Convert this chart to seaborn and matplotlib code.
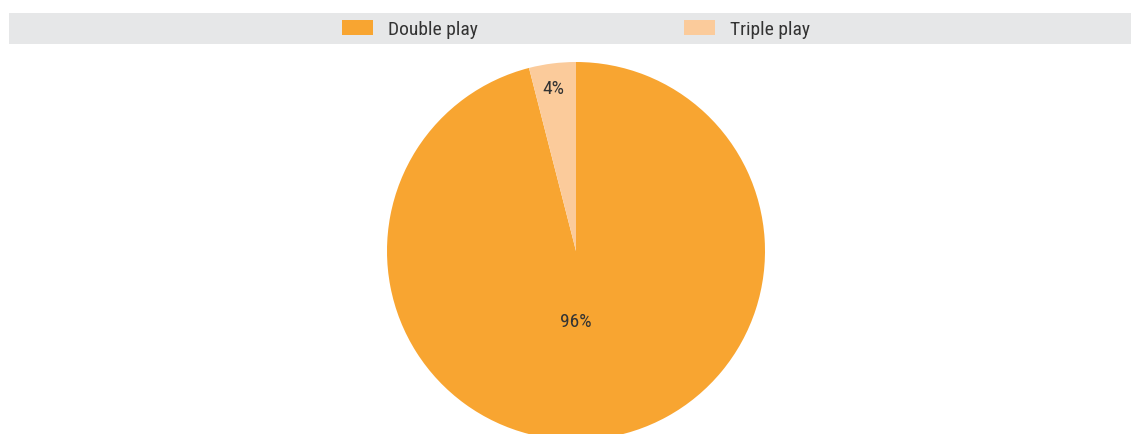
import matplotlib
matplotlib.use("Agg")
import matplotlib.pyplot as plt
import seaborn as sns
from matplotlib.patches import Rectangle
from matplotlib import font_manager

categories = ["Double play", "Triple play"]
values = [96, 4]
colors = ["#F8A531", "#FBCB9B"]

sns.set_theme(style="white")
avail = {f.name for f in font_manager.fontManager.ttflist}
fam = [f for f in ["Liberation Sans Narrow", "Roboto Condensed", "Liberation Sans", "DejaVu Sans"] if f in avail]
plt.rcParams['font.family'] = fam

W, H = 1131, 435
fig = plt.figure(figsize=(W / 100, H / 100), dpi=100)

# legend background bar
fig.patches.append(Rectangle((9 / W, 1 - 45 / H), (W - 9) / W, 31 / H,
                             transform=fig.transFigure, facecolor="#E6E7E8",
                             edgecolor="none", zorder=0))

cx, cy, r = 576, 252, 189
ax = fig.add_axes([(cx - r) / W, (H - cy - r) / H, 2 * r / W, 2 * r / H])
wedges, texts, autotexts = ax.pie(values, colors=colors, startangle=90, counterclock=False,
                                  autopct=lambda p: f"{p:.0f}%", pctdistance=0.87,
                                  wedgeprops=dict(linewidth=0),
                                  textprops=dict(color="#333333", fontsize=14))
autotexts[0].set_position((0, -0.37))
autotexts[1].set_position((-0.12, 0.86))
ax.set_xlim(-1, 1)
ax.set_ylim(-1, 1)
ax.set_aspect("equal")

fs = 14
leg = fig.legend(wedges, categories, ncol=2, loc="center", bbox_to_anchor=(576 / W, 1 - 30 / H),
                 frameon=False, fontsize=fs, handlelength=1.6, handleheight=0.82,
                 handletextpad=0.77, columnspacing=10.6, labelcolor="#333333")

fig.savefig("out.png", dpi=100)
